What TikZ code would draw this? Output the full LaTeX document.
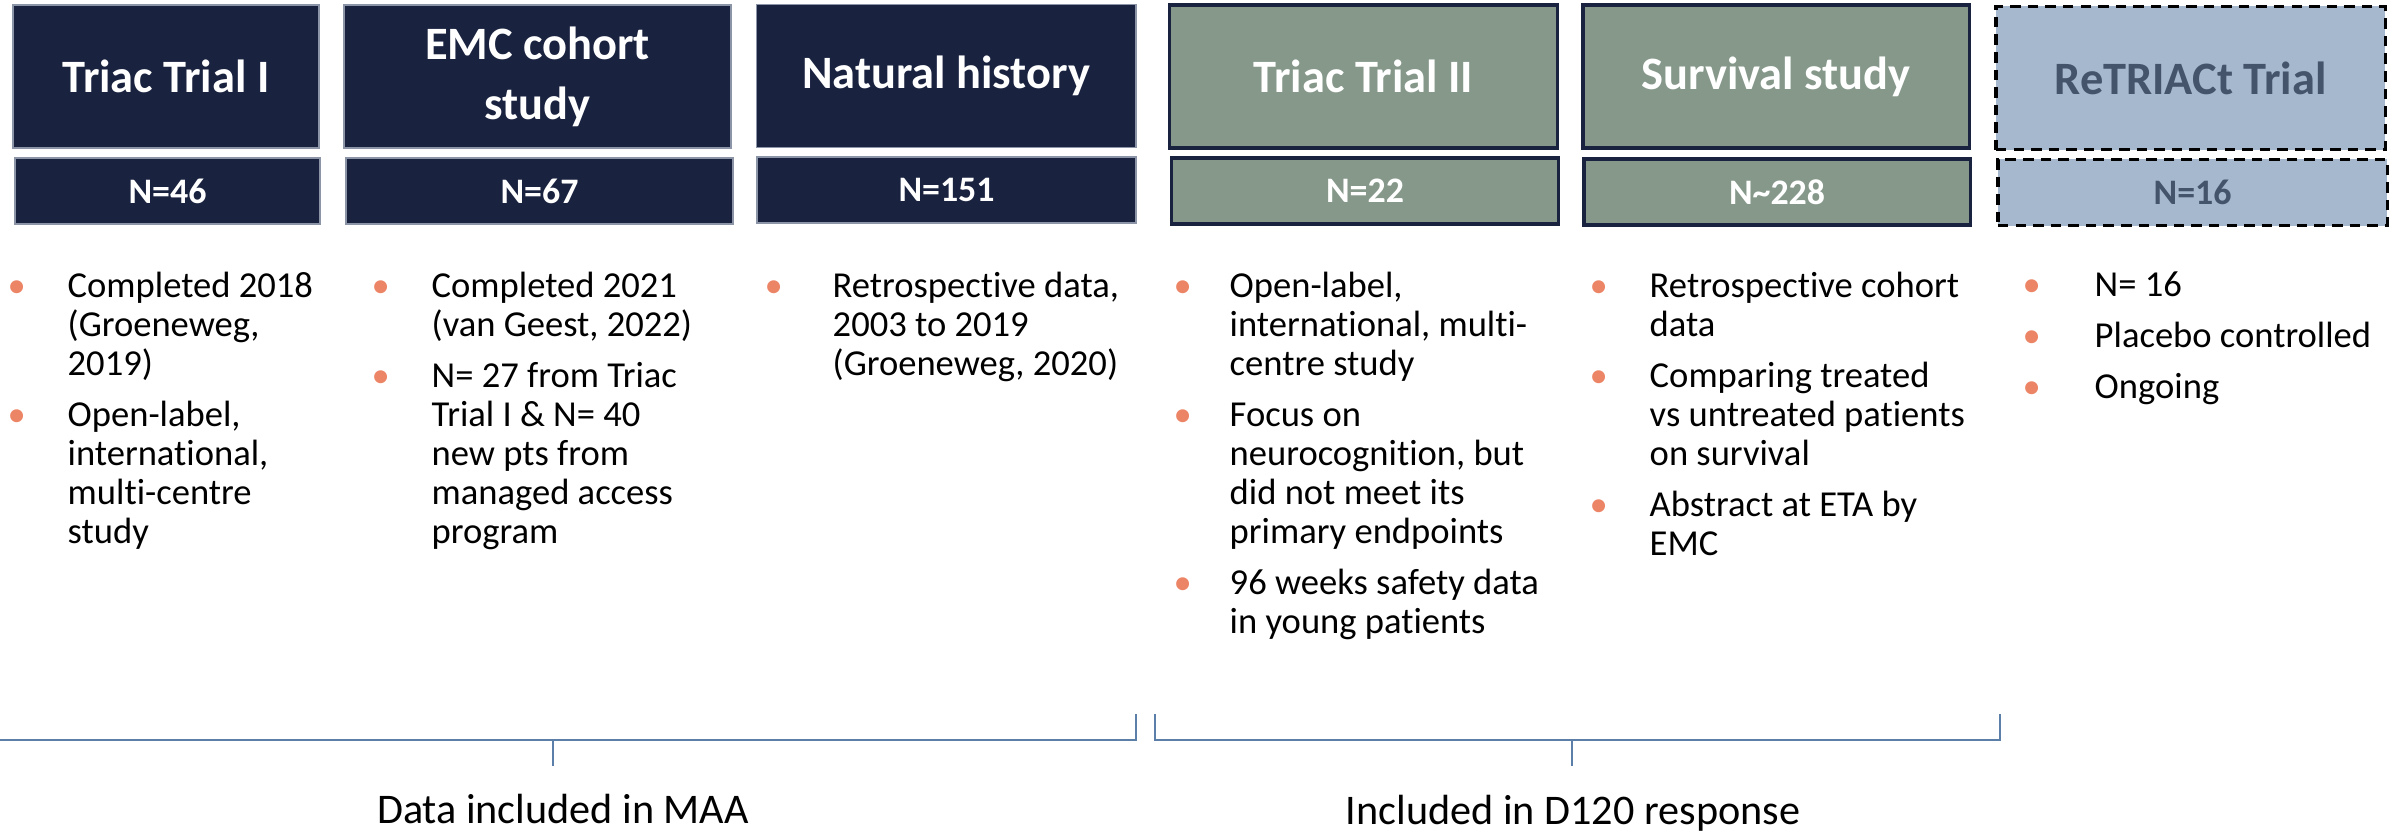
\documentclass[tikz,border=0pt]{standalone}
\usepackage{fontspec}
\setmainfont{Carlito}[Ligatures=NoCommon]
\definecolor{navy}{HTML}{19223F}
\definecolor{sage}{HTML}{85988A}
\definecolor{pale}{HTML}{A5B8CD}
\definecolor{slate}{HTML}{44546A}
\definecolor{rim}{HTML}{8C95A8}
\definecolor{dotc}{HTML}{EC8466}
\definecolor{bracec}{HTML}{5B7FA8}
\newcommand{\bul}[1][0.6cm]{\llap{\makebox[#1][l]{\textcolor{dotc}{•}}}\ignorespaces}
\newcommand{\gap}{3.4pt}

\begin{document}
\begin{tikzpicture}[x=0.01cm, y=-0.01cm,
    title/.style={inner sep=0, align=center, minimum height=1.43cm, font=\fontsize{13.2}{17}\selectfont\bfseries},
    count/.style={inner sep=0, minimum height=0.66cm, font=\fontsize{10.2}{12}\selectfont\bfseries},
    dark/.style={draw=rim, line width=0.5pt, fill=navy, text=white},
    green/.style={draw=navy, line width=0.9pt, fill=sage, text=white},
    planned/.style={draw=black, line width=0.9pt, dash pattern=on 3pt off 2pt, fill=pale, text=slate},
    body/.style={anchor=north west, inner sep=0, align=left, font=\fontsize{10.4}{11.1}\selectfont},
    brace/.style={draw=bracec, line width=0.6pt},
    caption/.style={anchor=base, inner sep=0, font=\fontsize{12}{14}\selectfont}]
    \useasboundingbox (0,0) rectangle (2395,837);

    \node[title, dark, minimum width=3.06cm] (trialone) at (166,76.5) {Triac Trial I};
    \node[title, dark, minimum width=3.87cm] (emc) at (537.5,76.5) {EMC cohort\\study};
    \node[title, dark, minimum width=3.79cm] (natural) at (946,76) {Natural history};
    \node[title, green, minimum width=3.87cm] (trialtwo) at (1363.5,76.5) {Triac Trial II};
    \node[title, green, minimum width=3.86cm] (survival) at (1776,76.5) {Survival study};
    \node[title, planned, minimum width=3.89cm] (retriact) at (2190.5,78) {ReTRIACt Trial};

    \node[count, dark, minimum width=3.05cm] (ntrialone) at (167.5,191) {N=46};
    \node[count, dark, minimum width=3.87cm] (nemc) at (539.5,191) {N=67};
    \node[count, dark, minimum width=3.79cm] (nnatural) at (946.5,190) {N=151};
    \node[count, green, minimum width=3.86cm] (ntrialtwo) at (1365,191) {N=22};
    \node[count, green, minimum width=3.86cm] (nsurvival) at (1777,192) {N\textasciitilde 228};
    \node[count, planned, minimum width=3.89cm] (nretriact) at (2192.5,192.5) {N=16};

    \node[body] (btrialone) at (67,271) {\bul Completed 2018\\(Groeneweg,\\2019)\\[\gap]\bul Open-label,\\international,\\multi-centre\\study};
    \node[body] (bemc) at (431,271) {\bul Completed 2021\\(van Geest, 2022)\\[\gap]\bul N= 27 from Triac\\Trial I \& N= 40\\new pts from\\managed access\\program};
    \node[body] (bnatural) at (832,271) {\bul[0.68cm]Retrospective data,\\2003 to 2019\\(Groeneweg, 2020)};
    \node[body] (btrialtwo) at (1229,271) {\bul[0.56cm]Open-label,\\international, multi-\\centre study\\[\gap]\bul[0.56cm]Focus on\\neurocognition, but\\did not meet its\\primary endpoints\\[\gap]\bul[0.56cm]96 weeks safety data\\in young patients};
    \node[body] (bsurvival) at (1649,271) {\bul Retrospective cohort\\data\\[\gap]\bul Comparing treated\\vs untreated patients\\on survival\\[\gap]\bul Abstract at ETA by\\EMC};
    \node[body] (bretriact) at (2094,271) {\bul[0.72cm]N= 16\\[\gap]\bul[0.72cm]Placebo controlled\\[\gap]\bul[0.72cm]Ongoing};

    \draw[brace] (0,740) -- (1136,740) -- (1136,714);
    \draw[brace] (553,740) -- (553,766);
    \draw[brace] (1155,714) -- (1155,740) -- (2000,740) -- (2000,714);
    \draw[brace] (1572,740) -- (1572,766);

    \node[caption] (maa) at (563,823) {Data included in MAA};
    \node[caption] (dresp) at (1573,824) {Included in D120 response};
\end{tikzpicture}
\end{document}
